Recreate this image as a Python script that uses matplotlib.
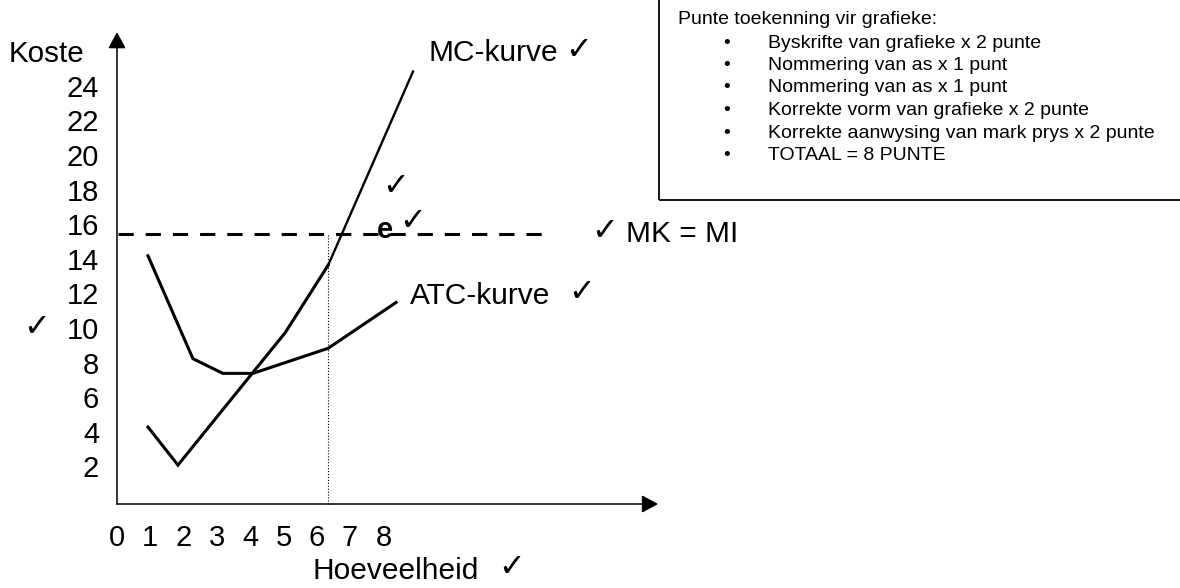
import matplotlib
matplotlib.use("Agg")
import matplotlib.pyplot as plt
from matplotlib.patches import Rectangle

plt.rcParams['font.family'] = ['Liberation Sans', 'DejaVu Sans']

# curve points (quantity, cost)
q_mc = [0.93, 1.83, 4.08, 5.05, 6.34]
mc = [4.45, 2.25, 7.6, 9.9, 13.8]
q_mc_top = [6.34, 8.89]
mc_top = [13.8, 25.0]
q_atc = [0.93, 2.28, 3.18, 4.08, 6.34, 8.38]
atc = [14.35, 8.4, 7.55, 7.55, 9.0, 11.65]
price = 15.58
q_e = 6.34
price_end = 13.1

x_ticks = [0, 1, 2, 3, 4, 5, 6, 7, 8]
y_ticks = [2, 4, 6, 8, 10, 12, 14, 16, 18, 20, 22, 24]

box_title = "Punte toekenning vir grafieke:"
box_items = ["Byskrifte van grafieke x 2 punte",
             "Nommering van as x 1 punt",
             "Nommering van as x 1 punt",
             "Korrekte vorm van grafieke x 2 punte",
             "Korrekte aanwysing van mark prys x 2 punte",
             "TOTAAL = 8 PUNTE"]

fig = plt.figure(figsize=(11.8, 5.88), dpi=100)
ax = fig.add_axes([0, 0, 1, 1])
ax.set_xlim(-3.5135, 31.922)
ax.set_ylim(-4.855, 29.133)
ax.axis('off')

# axes with arrow heads
arr = dict(arrowstyle="-|>,head_length=1.0,head_width=0.54", mutation_scale=10,
           color='black', lw=1.1, shrinkA=0, shrinkB=0)
ax.annotate("", xy=(0, 27.28), xytext=(0, 0), arrowprops=arr)
ax.annotate("", xy=(16.25, 0), xytext=(0, 0), arrowprops=arr)

for t in x_ticks:
    ax.text(t, -1.95, str(t), ha='center', va='center', fontsize=21)
for t in y_ticks:
    ax.text(-0.54, t, str(t), ha='right', va='center', fontsize=21)

ax.plot(q_mc, mc, color='black', lw=2.2, solid_joinstyle='miter')
ax.plot(q_mc_top, mc_top, color='black', lw=1.7)
ax.plot(q_atc, atc, color='black', lw=2.2, solid_joinstyle='miter')
ax.plot([0.03, price_end], [price, price], color='black', lw=2.2, linestyle=(0, (5, 3.9)))
ax.plot([q_e, q_e], [0, price], color='black', lw=0.8, linestyle=':')

ck = dict(ha='center', va='center', fontsize=23)
ax.text(-3.24, 26.0, "Koste", ha='left', va='center', fontsize=21.3)
ax.text(-2.4, 10.2, "\u2713", **ck)
ax.text(9.34, 26.05, "MC-kurve", ha='left', va='center', fontsize=21.5)
ax.text(13.87, 26.2, "\u2713", **ck)
ax.text(8.38, 18.3, "\u2713", **ck)
ax.text(7.81, 15.85, "e", ha='left', va='center', fontsize=21, fontweight='bold')
ax.text(8.89, 16.3, "\u2713", **ck)
ax.text(14.65, 15.7, "\u2713", **ck)
ax.text(15.28, 15.6, "MK = MI", ha='left', va='center', fontsize=21.5)
ax.text(8.8, 12.0, "ATC-kurve", ha='left', va='center', fontsize=21.5)
ax.text(13.95, 12.2, "\u2713", **ck)
ax.text(5.86, -3.85, "Hoeveelheid", ha='left', va='center', fontsize=21.5)
ax.text(11.85, -3.7, "\u2713", **ck)

# marking box in the top right corner
fig.patches.append(Rectangle((659 / 1180, (588 - 200) / 588), 0.6, 0.5,
                             transform=fig.transFigure, fill=False,
                             edgecolor='black', lw=1.3))
fig.text(678 / 1180, 1 - 20 / 588, box_title, ha='left', va='center', fontsize=14)
for i, item in enumerate(box_items):
    y = 1 - (43 + 22.5 * i) / 588
    fig.text(727 / 1180, y, "\u2022", ha='center', va='center', fontsize=14)
    fig.text(768 / 1180, y, item, ha='left', va='center', fontsize=14)

fig.savefig("out.png", dpi=100)
